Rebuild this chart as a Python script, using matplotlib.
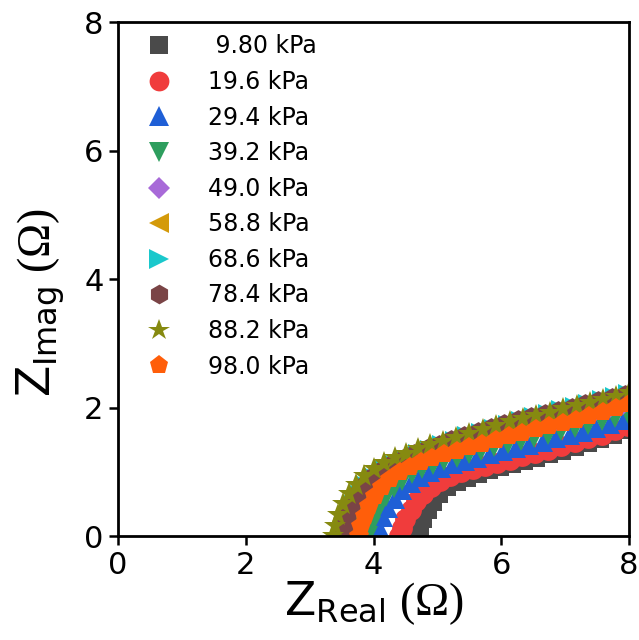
import matplotlib
matplotlib.use("Agg")
import matplotlib.pyplot as plt

plt.rcParams['font.family'] = ['DejaVu Sans']
plt.rcParams['mathtext.fontset'] = 'custom'
plt.rcParams['mathtext.rm'] = 'DejaVu Sans'
plt.rcParams['mathtext.it'] = 'DejaVu Sans'

# Nyquist data (Z_real, Z_imag in ohm)
labels = [' 9.80 kPa', '19.6 kPa', '29.4 kPa', '39.2 kPa', '49.0 kPa',
          '58.8 kPa', '68.6 kPa', '78.4 kPa', '88.2 kPa', '98.0 kPa']

x_98 = [4.68, 4.72, 4.78, 4.85, 4.93, 5.03, 5.15, 5.30, 5.46, 5.63, 5.80, 5.98,
        6.17, 6.36, 6.55, 6.75, 6.95, 7.15, 7.35, 7.55, 7.75, 7.95]
y_98 = [0.00, 0.12, 0.26, 0.40, 0.53, 0.65, 0.76, 0.84, 0.91, 0.97, 1.02, 1.07,
        1.12, 1.17, 1.22, 1.28, 1.33, 1.39, 1.45, 1.51, 1.58, 1.65]

x_196 = [4.40, 4.44, 4.50, 4.58, 4.67, 4.78, 4.90, 5.04, 5.20, 5.37, 5.55, 5.74,
         5.93, 6.13, 6.33, 6.53, 6.73, 6.94, 7.15, 7.36, 7.57, 7.78, 7.98]
y_196 = [0.00, 0.13, 0.27, 0.41, 0.54, 0.66, 0.77, 0.86, 0.93, 0.99, 1.04, 1.09,
         1.14, 1.19, 1.24, 1.29, 1.34, 1.40, 1.46, 1.52, 1.58, 1.65, 1.72]

x_294 = [4.05, 4.09, 4.15, 4.23, 4.33, 4.45, 4.58, 4.73, 4.89, 5.06, 5.24, 5.43,
         5.62, 5.82, 6.02, 6.23, 6.44, 6.65, 6.86, 7.07, 7.28, 7.49, 7.70, 7.92]
y_294 = [0.00, 0.14, 0.29, 0.44, 0.58, 0.71, 0.82, 0.92, 1.00, 1.06, 1.12, 1.17,
         1.22, 1.27, 1.32, 1.37, 1.42, 1.47, 1.52, 1.57, 1.62, 1.68, 1.74, 1.80]

x_392 = [3.92, 3.96, 4.02, 4.10, 4.20, 4.32, 4.45, 4.60, 4.76, 4.93, 5.11, 5.30,
         5.49, 5.69, 5.89, 6.10, 6.31, 6.52, 6.73, 6.94, 7.15, 7.36, 7.57, 7.78, 7.98]
y_392 = [0.00, 0.15, 0.31, 0.46, 0.61, 0.74, 0.86, 0.96, 1.04, 1.11, 1.17, 1.22,
         1.28, 1.33, 1.38, 1.43, 1.48, 1.53, 1.58, 1.63, 1.68, 1.73, 1.79, 1.84, 1.90]

x_490 = [3.68, 3.71, 3.76, 3.83, 3.92, 4.03, 4.16, 4.31, 4.47, 4.64, 4.82, 5.01,
         5.20, 5.40, 5.60, 5.81, 6.02, 6.23, 6.44, 6.65, 6.86, 7.07, 7.28, 7.49, 7.70, 7.91]
y_490 = [0.00, 0.16, 0.32, 0.48, 0.63, 0.77, 0.90, 1.01, 1.10, 1.18, 1.25, 1.32,
         1.38, 1.44, 1.50, 1.56, 1.62, 1.67, 1.72, 1.77, 1.82, 1.87, 1.92, 1.97, 2.02, 2.07]

x_588 = [3.60, 3.63, 3.68, 3.75, 3.84, 3.95, 4.08, 4.23, 4.39, 4.56, 4.74, 4.93,
         5.12, 5.32, 5.52, 5.73, 5.94, 6.15, 6.36, 6.57, 6.78, 6.99, 7.20, 7.41, 7.62, 7.83]
y_588 = [0.00, 0.16, 0.32, 0.48, 0.64, 0.78, 0.91, 1.02, 1.11, 1.19, 1.26, 1.33,
         1.40, 1.46, 1.52, 1.58, 1.64, 1.70, 1.75, 1.80, 1.85, 1.90, 1.95, 2.00, 2.05, 2.10]

x_686 = [3.55, 3.58, 3.63, 3.70, 3.79, 3.90, 4.03, 4.18, 4.34, 4.51, 4.69, 4.88,
         5.07, 5.27, 5.47, 5.68, 5.89, 6.10, 6.31, 6.52, 6.73, 6.94, 7.15, 7.36,
         7.57, 7.78, 7.98]
y_686 = [0.00, 0.16, 0.32, 0.48, 0.64, 0.78, 0.91, 1.02, 1.11, 1.19, 1.27, 1.34,
         1.41, 1.48, 1.55, 1.61, 1.67, 1.73, 1.79, 1.85, 1.90, 1.96, 2.01, 2.06,
         2.11, 2.16, 2.21]

x_784 = [3.50, 3.53, 3.58, 3.65, 3.74, 3.85, 3.98, 4.13, 4.29, 4.46, 4.64, 4.83,
         5.02, 5.22, 5.42, 5.63, 5.84, 6.05, 6.26, 6.47, 6.68, 6.89, 7.10, 7.31,
         7.52, 7.73, 7.94]
y_784 = [0.00, 0.16, 0.32, 0.49, 0.65, 0.79, 0.92, 1.03, 1.12, 1.20, 1.28, 1.35,
         1.42, 1.49, 1.56, 1.62, 1.68, 1.74, 1.80, 1.85, 1.90, 1.95, 2.00, 2.05,
         2.10, 2.15, 2.20]

x_882 = [3.37, 3.40, 3.45, 3.52, 3.61, 3.72, 3.85, 4.00, 4.16, 4.33, 4.51, 4.70,
         4.89, 5.09, 5.29, 5.50, 5.71, 5.92, 6.13, 6.34, 6.55, 6.76, 6.97, 7.18,
         7.39, 7.60, 7.80, 8.00]
y_882 = [0.00, 0.16, 0.33, 0.50, 0.66, 0.80, 0.93, 1.04, 1.13, 1.21, 1.28, 1.35,
         1.41, 1.47, 1.53, 1.59, 1.65, 1.71, 1.77, 1.82, 1.87, 1.92, 1.97, 2.02,
         2.07, 2.12, 2.17, 2.22]

x_980 = [3.78, 3.81, 3.86, 3.93, 4.02, 4.13, 4.26, 4.41, 4.57, 4.74, 4.92, 5.11,
         5.30, 5.50, 5.70, 5.91, 6.12, 6.33, 6.54, 6.75, 6.96, 7.17, 7.38, 7.59,
         7.80, 8.00]
y_980 = [0.00, 0.15, 0.31, 0.47, 0.62, 0.76, 0.89, 1.00, 1.08, 1.15, 1.21, 1.27,
         1.32, 1.38, 1.43, 1.49, 1.55, 1.61, 1.66, 1.71, 1.76, 1.81, 1.87, 1.93,
         1.99, 2.05]

xs = [x_98, x_196, x_294, x_392, x_490, x_588, x_686, x_784, x_882, x_980]
ys = [y_98, y_196, y_294, y_392, y_490, y_588, y_686, y_784, y_882, y_980]

markers = ['s', 'o', '^', 'v', 'D', '<', '>', 'h', '*', 'p']
colors = ['#4a4a4a', '#f03c3c', '#1f5fd6', '#2e9e5e', '#a86ad8',
          '#d49a0a', '#1ac8cc', '#7a4446', '#868a10', '#ff5e0a']
sizes = [13, 15, 15, 15, 12, 15, 15, 15, 17, 15]

fig = plt.figure(figsize=(6.39, 6.40), dpi=100)
ax = fig.add_axes([0.1847, 0.1625, 0.7997, 0.803])

for x, y, m, c, s, lab in zip(xs, ys, markers, colors, sizes, labels):
    ax.plot(x, y, linestyle='none', marker=m, color=c, markersize=s,
            markeredgewidth=0, label=lab)

ax.set_xlim(0, 8)
ax.set_ylim(0, 8)
ax.set_xticks([0, 2, 4, 6, 8])
ax.set_yticks([0, 2, 4, 6, 8])

for sp in ax.spines.values():
    sp.set_linewidth(2.0)
    sp.set_zorder(3)
ax.tick_params(direction='out', length=6.5, width=1.8, labelsize=22, pad=4)

ax.set_xlabel(r'$\mathrm{Z_{Real}}$ (Ω)', fontsize=33, family='Liberation Serif', labelpad=0)
ax.set_ylabel(r'$\mathrm{Z_{Imag}}$ (Ω)', fontsize=33, family='Liberation Serif')
ax.yaxis.set_label_coords(-0.1, 0.455)

ax.legend(loc='upper left', bbox_to_anchor=(0.025, 1.008), frameon=False,
          fontsize=17, numpoints=1, handlelength=1.0, handletextpad=1.55,
          labelspacing=0.49, borderpad=0.2, markerscale=0.95)

fig.savefig('out.png', dpi=100)
